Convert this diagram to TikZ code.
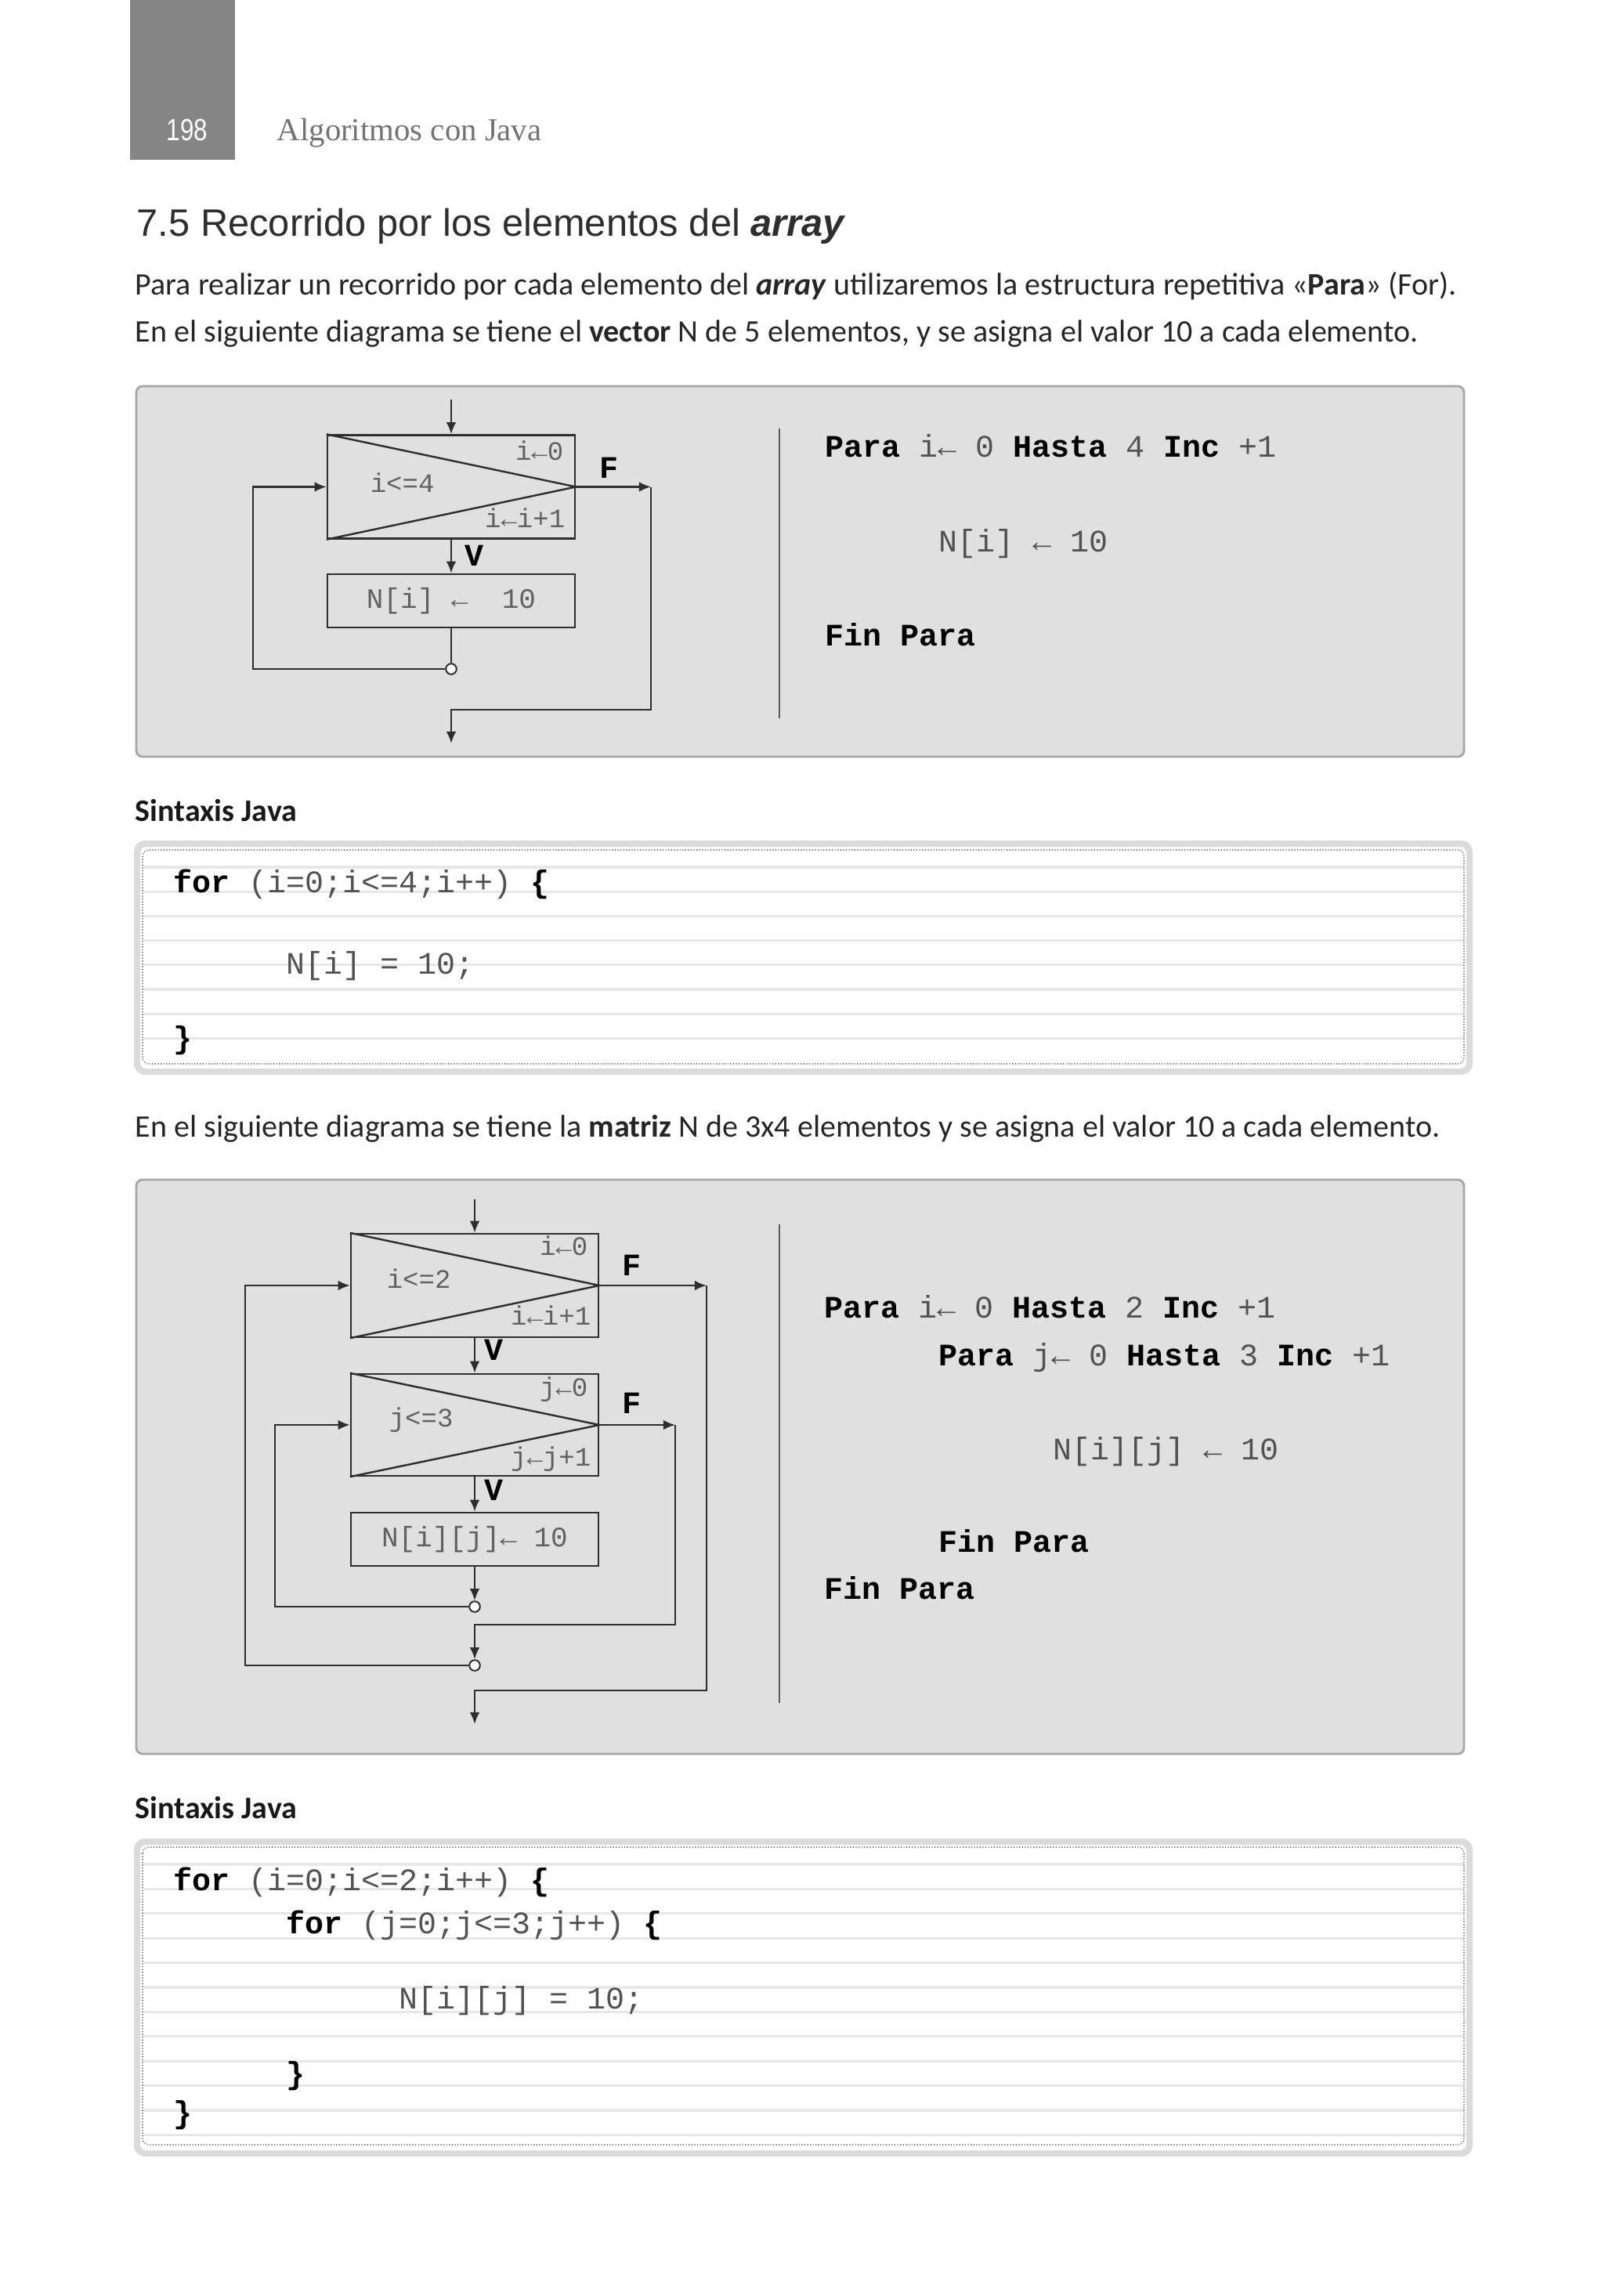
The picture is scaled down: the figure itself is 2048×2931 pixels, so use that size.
\documentclass[tikz,border=0pt]{standalone}
\usepackage{fontspec}
\setmainfont{Carlito}
\newfontfamily\mono{Liberation Mono}
\newfontfamily\titlefont{Liberation Sans}
\newfontfamily\serifhead{Liberation Serif}
\newfontfamily\numfont[FakeStretch=0.8]{Liberation Sans}
\usetikzlibrary{arrows.meta}
\newcommand\kw[1]{{\color{black}\bfseries #1}}
\tikzset{
  fl/.style={draw=black!82, line width=0.6pt},
  arr/.style={fl, -{Latex[length=3.8pt,width=3.2pt]}},
  loopbox/.style={fl, rectangle, minimum width=79pt, minimum height=33pt, inner sep=0pt},
  procbox/.style={fl, rectangle, minimum width=79pt, minimum height=17pt, inner sep=0pt,
    font=\mono\fontsize{9pt}{10pt}\selectfont, text=black!62},
  lbl/.style={inner sep=0pt, font=\mono\fontsize{8.5pt}{10pt}\selectfont, text=black!62},
  tf/.style={inner sep=0pt, anchor=base west, font=\mono\bfseries\fontsize{10pt}{11pt}\selectfont},
  joint/.style={circle, draw=black!82, fill=white, line width=0.5pt, minimum size=3.4pt, inner sep=0pt},
  codetxt/.style={inner sep=0pt, anchor=base west, font=\mono\fontsize{10pt}{12pt}\selectfont, text=black!68},
  panel/.style={draw=black!35, line width=0.7pt, fill=black!12, rounded corners=2pt},
  sep/.style={draw=black!65, line width=0.45pt},
  rule/.style={draw=black!9, line width=0.8pt},
  dotb/.style={draw=black!55, line width=0.4pt, dash pattern=on 0.3pt off 0.6pt},
  para/.style={inner sep=0pt, anchor=base west, font=\fontsize{10pt}{12pt}\selectfont, text=black!85},
  subhead/.style={inner sep=0pt, anchor=base west, font=\bfseries\fontsize{10pt}{12pt}\selectfont, text=black!90}
}
\begin{document}
\begin{tikzpicture}[x=0.25pt,y=-0.25pt]
\path[fill=white,use as bounding box] (0,0) rectangle (2048,2931);

% ---------- header ----------
\fill[black!48] (166,0) rectangle (300,204);
\node[inner sep=0pt, anchor=base, font=\numfont\fontsize{9.8pt}{10pt}\selectfont, text=white] (pg) at (239,180) {198};
\node[inner sep=0pt, anchor=base west, font=\serifhead\fontsize{10.2pt}{12pt}\selectfont, text=black!55] (hd) at (353,180) {Algoritmos con Java};

% ---------- title and text ----------
\node[inner sep=0pt, anchor=base west, font=\titlefont\fontsize{12.2pt}{14pt}\selectfont, text=black!82] (ttl) at (174,302) {7.5 Recorrido por los elementos del \textbf{\textit{array}}};
\node[para] (p1) at (172,377) {Para realizar un recorrido por cada elemento del \textbf{\textit{array}} utilizaremos la estructura repetitiva «\textbf{Para}» (For).};
\node[para] (p2) at (172,437) {En el siguiente diagrama se tiene el \textbf{vector} N de 5 elementos, y se asigna el valor 10 a cada elemento.};

% ---------- panel 1 ----------
\path[panel] (174,493) rectangle (1869,966);
\node[loopbox] (A) at (576,621.5) {};
\draw[fl] (A.north west) -- (A.east) -- (A.south west);
\node[procbox] (B) at (576,767) {N[i]~←~~10};
\node[lbl, anchor=base east] (a1) at (720,587) {i←0};
\node[lbl, anchor=base west] (a2) at (472,628) {i<=4};
\node[lbl, anchor=base east] (a3) at (722,673) {i←i+1};
\node[tf] (aF) at (765,610) {F};
\node[tf] (aV) at (593,722) {V};
\node[joint] (C1) at (576,854) {};
\coordinate (A0) at (576,510);
\coordinate (AL) at (323,854);
\coordinate (AR) at (831,621.5);
\coordinate (AB) at (576,906);
\coordinate (AX) at (576,949);
\draw[arr] (A0) -- (A.north);
\draw[arr] (A.south) -- (B.north);
\draw[fl] (B.south) -- (C1.north);
\draw[arr] (C1.west) -- (AL) |- (A.west);
\draw[arr] (A.east) -- (AR);
\draw[arr] (AR) |- (AB) -- (AX);
\draw[sep] (995,547) -- (995,917);
\node[codetxt] (r1) at (1053,583) {\kw{Para} i← 0 \kw{Hasta} 4 \kw{Inc} +1};
\node[codetxt] (r2) at (1198,704) {N[i] ← 10};
\node[codetxt] (r3) at (1053,824) {\kw{Fin Para}};

% ---------- code box 1 ----------
\node[subhead] (s1) at (172,1048) {Sintaxis Java};
\fill[black!14, rounded corners=3.5pt] (171,1073) rectangle (1880,1372);
\fill[white, rounded corners=2pt] (179,1081) rectangle (1872,1364);
\foreach \k in {0,...,7} \draw[rule] (182,{1107+31.2*\k}) -- (1869,{1107+31.2*\k});
\draw[dotb, rounded corners=2pt] (182,1085) rectangle (1869,1358);
\node[codetxt] (j1) at (221,1139) {\kw{for} (i=0;i<=4;i++) \kw{\{}};
\node[codetxt] (j2) at (365,1243) {N[i] = 10;};
\node[codetxt] (j3) at (221,1338) {\kw{\}}};

% ---------- paragraph 2 ----------
\node[para] (p3) at (172,1451) {En el siguiente diagrama se tiene la \textbf{matriz} N de 3x4 elementos y se asigna el valor 10 a cada elemento.};

% ---------- panel 2 ----------
\path[panel] (174,1506) rectangle (1869,2239);
\node[loopbox] (Li) at (606,1641) {};
\draw[fl] (Li.north west) -- (Li.east) -- (Li.south west);
\node[loopbox, minimum height=32.5pt] (Lj) at (606,1819) {};
\draw[fl] (Lj.north west) -- (Lj.east) -- (Lj.south west);
\node[procbox] (P2) at (606,1965) {N[i][j]←~10};
\node[lbl, anchor=base east] (b1) at (751,1602) {i←0};
\node[lbl, anchor=base west] (b2) at (493,1644) {i<=2};
\node[lbl, anchor=base east] (b3) at (755,1691) {i←i+1};
\node[tf] (bF) at (794,1628) {F};
\node[tf] (bV) at (618,1736) {V};
\node[lbl, anchor=base east] (c1) at (751,1782) {j←0};
\node[lbl, anchor=base west] (c2) at (496,1821) {j<=3};
\node[lbl, anchor=base east] (c3) at (755,1871) {j←j+1};
\node[tf] (cF) at (794,1804) {F};
\node[tf] (cV) at (618,1915) {V};
\node[joint] (K1) at (606,2051) {};
\node[joint] (K2) at (606,2126) {};
\coordinate (E0) at (606,1531);
\coordinate (JL) at (351,2051);
\coordinate (IL) at (313,2126);
\coordinate (JR) at (862,1819);
\coordinate (JB) at (606,2074);
\coordinate (IR) at (902,1641);
\coordinate (IB) at (606,2158);
\coordinate (IX) at (606,2201);
\draw[arr] (E0) -- (Li.north);
\draw[arr] (Li.south) -- (Lj.north);
\draw[arr] (Lj.south) -- (P2.north);
\draw[arr] (P2.south) -- (K1.north);
\draw[arr] (K1.west) -- (JL) |- (Lj.west);
\draw[arr] (Lj.east) -- (JR);
\draw[arr] (JR) |- (JB) -- (K2.north);
\draw[arr] (K2.west) -- (IL) |- (Li.west);
\draw[arr] (Li.east) -- (IR);
\draw[arr] (IR) |- (IB) -- (IX);
\draw[sep] (995,1563) -- (995,2174);
\node[codetxt] (q1) at (1052,1682) {\kw{Para} i← 0 \kw{Hasta} 2 \kw{Inc} +1};
\node[codetxt] (q2) at (1198,1743) {\kw{Para} j← 0 \kw{Hasta} 3 \kw{Inc} +1};
\node[codetxt] (q3) at (1344,1863) {N[i][j] ← 10};
\node[codetxt] (q4) at (1198,1981) {\kw{Fin Para}};
\node[codetxt] (q5) at (1052,2041) {\kw{Fin Para}};

% ---------- code box 2 ----------
\node[subhead] (s2) at (172,2321) {Sintaxis Java};
\fill[black!14, rounded corners=3.5pt] (171,2347) rectangle (1880,2753);
\fill[white, rounded corners=2pt] (179,2355) rectangle (1872,2745);
\foreach \k in {0,...,11} \draw[rule] (182,{2380+31.4*\k}) -- (1869,{2380+31.4*\k});
\draw[dotb, rounded corners=2pt] (182,2358) rectangle (1869,2738);
\node[codetxt] (k1) at (221,2413) {\kw{for} (i=0;i<=2;i++) \kw{\{}};
\node[codetxt] (k2) at (365,2468) {\kw{for} (j=0;j<=3;j++) \kw{\{}};
\node[codetxt] (k3) at (509,2564) {N[i][j] = 10;};
\node[codetxt] (k4) at (365,2660) {\kw{\}}};
\node[codetxt] (k5) at (221,2710) {\kw{\}}};
\end{tikzpicture}
\end{document}
